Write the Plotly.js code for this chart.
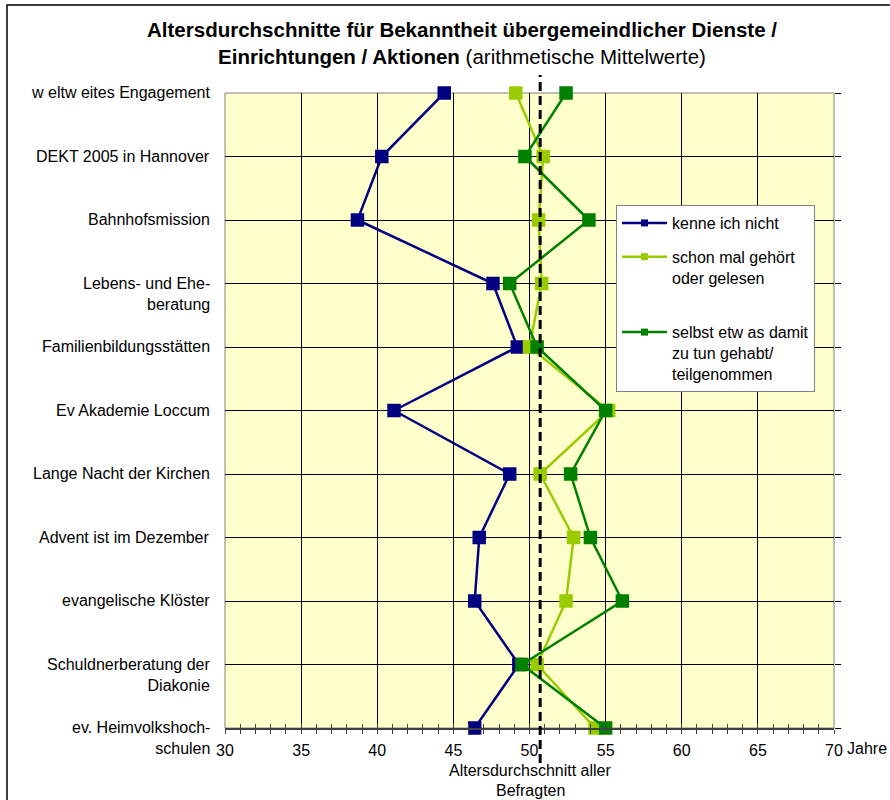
<!DOCTYPE html>
<html>
<head>
<meta charset="utf-8">
<script src="https://cdn.plot.ly/plotly-3.0.1.min.js"></script>
<style>html,body{margin:0;padding:0;background:#fff;} #chart{width:890px;height:800px;}</style>
</head>
<body>
<div id="chart"></div>
<script>
// ---- data ----
const categories = [
  "w eltw eites Engagement",
  "DEKT 2005 in Hannover",
  "Bahnhofsmission",
  "Lebens- und Ehe-<br>beratung",
  "Familienbildungsstätten",
  "Ev Akademie Loccum",
  "Lange Nacht der Kirchen",
  "Advent ist im Dezember",
  "evangelische Klöster",
  "Schuldnerberatung der<br>Diakonie",
  "ev. Heimvolkshoch-<br>schulen"
];
const kenneNicht   = [44.4, 40.3, 38.7, 47.6, 49.2, 41.1, 48.7, 46.7, 46.4, 49.3, 46.4];
const schonGehoert = [49.1, 50.9, 50.6, 50.8, 50.0, 55.2, 50.7, 52.9, 52.4, 50.5, 54.3];
const selbstDamit  = [52.4, 49.7, 53.9, 48.7, 50.5, 55.0, 52.7, 54.0, 56.1, 49.5, 55.0];
const seriesNames = ["kenne ich nicht", "schon mal gehört<br>oder gelesen<br> ", "selbst etw as damit<br>zu tun gehabt/<br>teilgenommen"];
const avgAge = [50.7];
const xTicks = [30, 35, 40, 45, 50, 55, 60, 65, 70];

const colors = ["#000080", "#99CC00", "#008000"];
const FONT = "Liberation Sans, Arial, sans-serif";
const FS = 16;
const allSeries = [kenneNicht, schonGehoert, selbstDamit];

const traces = [];
allSeries.forEach((vals, i) => {
  traces.push({
    type: "scatter", mode: "lines+markers",
    x: vals, y: categories,
    line: {color: colors[i], width: 2.5},
    marker: {symbol: "square", size: 13.5, color: colors[i]},
    cliponaxis: false, showlegend: false, hoverinfo: "skip"
  });
});
allSeries.forEach((vals, i) => {
  traces.push({
    type: "scatter", mode: "lines+markers",
    x: [null], y: [null], xaxis: "x2",
    name: seriesNames[i], legendgroup: "g" + i,
    line: {color: colors[i], width: 2.5},
    marker: {symbol: "square", size: 7, color: colors[i]},
    showlegend: true, hoverinfo: "skip"
  });
});

const H = 635, B = 728;
const py = p => (B - p) / H;
const px = p => (p - 225) / 609;

const annotations = categories.map((c, i) => ({
  xref: "paper", yref: "y", x: 0, y: i, xanchor: "right", yanchor: "top",
  xshift: -13, yshift: 11, text: c, showarrow: false, align: "right",
  font: {family: FONT, size: FS, color: "#000"}
}));
annotations.push({
  xref: "x", yref: "paper", x: xTicks[xTicks.length - 1], y: py(748), xanchor: "left", yanchor: "middle",
  xshift: 11, text: "Jahre", showarrow: false, font: {family: FONT, size: FS, color: "#000"}
});
annotations.push({
  xref: "x", yref: "paper", x: avgAge[0], y: py(770), xanchor: "center", yanchor: "middle",
  xshift: -10, text: "Altersdurchschnitt aller", showarrow: false, font: {family: FONT, size: FS, color: "#000"}
});
annotations.push({
  xref: "x", yref: "paper", x: avgAge[0], y: py(790), xanchor: "center", yanchor: "middle",
  xshift: -10, text: "Befragten", showarrow: false, font: {family: FONT, size: FS, color: "#000"}
});

const layout = {
  width: 890, height: 800,
  margin: {l: 225, r: 56, t: 93, b: 72},
  paper_bgcolor: "#fff", plot_bgcolor: "#FFFFCC",
  font: {family: FONT, size: FS, color: "#000"},
  title: {
    text: "<b>Altersdurchschnitte für Bekanntheit übergemeindlicher Dienste /</b><br><b>Einrichtungen / Aktionen</b> (arithmetische Mittelwerte)",
    x: 462 / 890, xref: "container", xanchor: "center",
    y: 1 - 37 / 800, yref: "container", yanchor: "top",
    font: {family: FONT, size: 20.5, color: "#000"}
  },
  xaxis: {
    range: [30, 70], tickvals: xTicks, ticktext: xTicks.map(String),
    showgrid: true, gridcolor: "#000", gridwidth: 1, zeroline: false,
    showline: true, linecolor: "#404040", linewidth: 2,
    ticks: "outside", ticklen: 4, tickcolor: "#404040", tickwidth: 1,
    minor: {dtick: 1, tick0: 30, ticks: "outside", ticklen: 4, tickcolor: "#404040", tickwidth: 1, showgrid: false},
    ticklabelstandoff: 3,
    tickfont: {family: FONT, size: FS, color: "#000"}, fixedrange: true
  },
  xaxis2: {
    overlaying: "x", anchor: "y", side: "bottom", range: [30, 70],
    tickvals: xTicks, showticklabels: false, showgrid: false, zeroline: false, showline: false,
    ticks: "inside", ticklen: 4, tickcolor: "#404040", tickwidth: 1,
    minor: {dtick: 1, tick0: 30, ticks: "inside", ticklen: 4, tickcolor: "#404040", tickwidth: 1, showgrid: false},
    fixedrange: true
  },
  yaxis: {
    type: "category", categoryarray: categories, categoryorder: "array",
    range: [categories.length - 1, 0],
    showgrid: true, gridcolor: "#000", gridwidth: 1, zeroline: false,
    showticklabels: false, showline: false, side: "right",
    ticks: "outside", ticklen: 6, tickcolor: "#000", tickwidth: 1, fixedrange: true
  },
  legend: {
    x: px(616), y: py(205), xanchor: "left", yanchor: "top",
    bgcolor: "#fff", bordercolor: "#808080", borderwidth: 1,
    font: {family: FONT, size: FS, color: "#000"},
    valign: "top", traceorder: "grouped", tracegroupgap: 10, itemwidth: 45
  },
  shapes: [
    {type: "rect", xref: "paper", yref: "paper", x0: 0, x1: 1, y0: 0, y1: 1,
     line: {color: "#808080", width: 1}, layer: "below"},
    {type: "line", xref: "x", yref: "paper", x0: avgAge[0], x1: avgAge[0], y0: py(763), y1: py(75),
     line: {color: "#000", width: 3, dash: "9px,5px"}, layer: "above"},
    {type: "rect", xref: "paper", yref: "paper", x0: px(7), x1: px(905), y0: py(815), y1: py(5),
     line: {color: "#000", width: 1.5}, layer: "above"}
  ],
  annotations: annotations,
  showlegend: true
};

Plotly.newPlot("chart", traces, layout, {displayModeBar: false, staticPlot: true});
</script>
</body>
</html>
